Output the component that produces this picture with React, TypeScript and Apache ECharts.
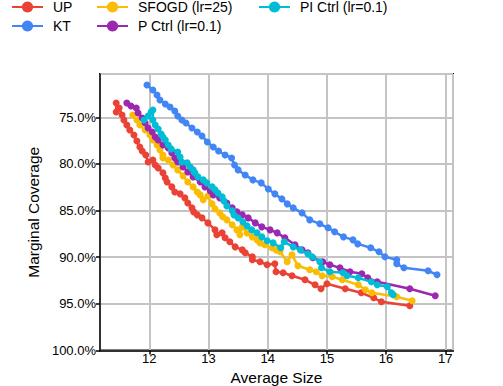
import React, { useEffect, useRef } from "react";
import * as echarts from "echarts";

const seriesNames = ["UP", "KT", "SFOGD (lr=25)", "P Ctrl (lr=0.1)", "PI Ctrl (lr=0.1)"];
const seriesColors = ["#EA4335", "#4285F4", "#FBBC04", "#9C27B0", "#00BCD4"];

const xRange = [11.167, 17.13];
const yRange = [70.36, 100];

const upSize = [11.44, 11.44, 11.49, 11.54, 11.57, 11.62, 11.67, 11.74, 11.79, 11.84, 11.88, 11.94, 11.98, 12.06, 12.10, 12.15, 12.23, 12.27, 12.30, 12.38, 12.43, 12.52, 12.60, 12.65, 12.72, 12.75, 12.81, 12.89, 12.99, 13.11, 13.14, 13.23, 13.28, 13.36, 13.45, 13.57, 13.62, 13.74, 13.74, 13.87, 13.99, 14.12, 14.14, 14.26, 14.41, 14.63, 14.80, 14.90, 15.00, 15.31, 15.58, 15.79, 15.92, 16.40];
const upCov = [73.47, 74.43, 74.00, 74.75, 75.29, 75.82, 76.36, 76.90, 77.54, 78.18, 78.61, 79.04, 79.79, 79.57, 80.11, 80.43, 80.96, 81.50, 81.93, 82.46, 83.00, 83.21, 83.64, 84.18, 84.71, 85.14, 85.46, 85.78, 86.32, 87.07, 87.60, 87.39, 87.92, 88.35, 88.89, 89.21, 89.53, 89.96, 90.28, 90.49, 90.81, 90.71, 91.56, 91.67, 91.99, 92.42, 92.96, 93.38, 92.85, 93.38, 93.81, 94.35, 94.78, 95.20];

const ktSize = [11.96, 12.06, 12.13, 12.18, 12.27, 12.35, 12.43, 12.48, 12.55, 12.62, 12.72, 12.81, 12.89, 12.98, 13.08, 13.17, 13.28, 13.39, 13.44, 13.50, 13.62, 13.75, 13.89, 14.01, 14.12, 14.24, 14.33, 14.43, 14.58, 14.71, 14.88, 15.02, 15.13, 15.28, 15.44, 15.52, 15.74, 15.88, 15.98, 16.18, 16.18, 16.30, 16.71, 16.86];
const ktCov = [71.54, 72.08, 72.61, 73.15, 73.58, 73.90, 74.33, 74.86, 75.29, 75.61, 76.15, 76.57, 77.00, 77.64, 78.18, 78.61, 79.04, 79.36, 80.11, 80.64, 81.18, 81.71, 82.03, 82.68, 83.21, 83.75, 84.28, 84.71, 85.25, 86.00, 86.42, 86.85, 87.28, 87.82, 88.14, 88.57, 88.99, 89.42, 89.96, 90.28, 90.71, 91.13, 91.46, 91.88];

const sfogdSize = [11.72, 11.79, 11.84, 11.93, 12.01, 12.06, 12.13, 12.18, 12.23, 12.23, 12.32, 12.40, 12.48, 12.57, 12.65, 12.74, 12.81, 12.86, 12.91, 12.99, 13.06, 13.11, 13.19, 13.24, 13.31, 13.40, 13.48, 13.53, 13.57, 13.65, 13.74, 13.82, 13.87, 13.95, 14.07, 14.14, 14.21, 14.33, 14.41, 14.51, 14.71, 14.82, 14.92, 15.09, 15.26, 15.53, 15.65, 15.76, 16.18, 16.44];
const sfogdCov = [74.75, 75.29, 75.82, 76.36, 76.90, 77.43, 77.97, 78.50, 79.04, 79.36, 79.57, 80.11, 80.64, 81.28, 81.93, 82.46, 83.00, 83.32, 83.85, 83.43, 84.28, 84.82, 85.25, 85.67, 86.00, 86.53, 87.07, 87.60, 86.75, 87.39, 87.82, 88.14, 88.46, 88.67, 88.99, 89.21, 89.42, 90.49, 89.74, 90.92, 91.35, 91.56, 91.99, 92.10, 92.42, 92.96, 93.49, 93.81, 94.24, 94.67];

const pSize = [11.62, 11.69, 11.78, 11.81, 11.88, 11.93, 11.98, 12.05, 12.10, 12.15, 12.23, 12.32, 12.38, 12.43, 12.48, 12.57, 12.65, 12.74, 12.86, 12.94, 13.03, 13.08, 13.19, 13.31, 13.40, 13.48, 13.57, 13.67, 13.79, 13.90, 14.04, 14.16, 14.29, 14.46, 14.58, 14.68, 14.76, 14.93, 15.05, 15.22, 15.39, 15.59, 15.69, 15.85, 16.40, 16.83];
const pCov = [73.47, 73.79, 74.00, 74.54, 75.07, 75.61, 76.15, 76.57, 77.11, 77.43, 77.97, 78.29, 78.82, 79.36, 79.79, 80.32, 80.86, 81.39, 81.93, 82.46, 82.89, 83.32, 83.64, 84.18, 84.71, 85.14, 85.46, 85.78, 86.32, 86.75, 87.07, 87.39, 87.92, 88.67, 89.21, 89.53, 90.06, 90.49, 90.81, 91.14, 91.56, 91.78, 92.21, 92.64, 93.38, 94.13];

const piSize = [11.91, 11.98, 12.03, 12.06, 12.06, 12.10, 12.15, 12.20, 12.23, 12.27, 12.32, 12.37, 12.48, 12.52, 12.55, 12.64, 12.69, 12.74, 12.77, 12.82, 12.91, 12.97, 13.06, 13.11, 13.16, 13.23, 13.26, 13.31, 13.40, 13.43, 13.50, 13.58, 13.65, 13.73, 13.82, 13.90, 13.99, 14.09, 14.22, 14.28, 14.43, 14.55, 14.68, 14.75, 14.88, 14.91, 15.05, 15.27, 15.34, 15.53, 15.75, 15.85, 16.02, 16.09, 16.12];
const piCov = [75.29, 74.86, 74.43, 74.22, 75.29, 75.82, 76.25, 76.79, 77.11, 77.43, 77.97, 78.39, 78.72, 79.25, 79.79, 79.89, 80.32, 80.64, 80.96, 81.39, 81.71, 82.03, 82.46, 82.78, 83.11, 83.53, 83.96, 84.50, 85.03, 85.46, 85.78, 86.21, 86.64, 87.07, 87.39, 87.82, 88.24, 88.46, 88.99, 88.35, 88.89, 89.21, 89.64, 89.96, 90.49, 91.13, 91.56, 91.67, 91.99, 92.21, 92.64, 92.96, 93.17, 93.81, 94.03];

const sizes = [upSize, ktSize, sfogdSize, pSize, piSize];
const covs = [upCov, ktCov, sfogdCov, pCov, piCov];

const FONT = "Liberation Sans, Arial, Helvetica, sans-serif";

export default function App() {
  const ref = useRef<HTMLDivElement>(null);
  useEffect(() => {
    if (!ref.current) return;
    const chart = echarts.init(ref.current, null, { renderer: "svg" });
    const dataSeries: any[] = seriesNames.map((name, i) => ({
      name,
      type: "line",
      data: sizes[i].map((x, j) => [x, covs[i][j]]),
      symbol: "circle",
      symbolSize: 7,
      showSymbol: true,
      lineStyle: { width: 2.5, color: seriesColors[i] },
      itemStyle: { color: seriesColors[i] },
      color: seriesColors[i],
      z: 3 + i,
    }));
    const legendCommon = {
      orient: "vertical",
      top: 0,
      padding: 0,
      itemWidth: 31,
      itemHeight: 14,
      itemGap: 5,
      textStyle: { fontFamily: FONT, fontSize: 14, color: "#000", padding: [0, 0, 0, 5] },
    };
    chart.setOption({
      animation: false,
      backgroundColor: "#fff",
      legend: [
        { ...legendCommon, left: 11, data: ["UP", "KT"] },
        { ...legendCommon, left: 96, data: ["SFOGD (lr=25)", "P Ctrl (lr=0.1)"] },
        { ...legendCommon, left: 258, data: ["PI Ctrl (lr=0.1)"] },
      ],
      grid: {
        left: 100,
        right: 50,
        top: 74,
        bottom: 35.5,
        outerBoundsMode: "none",
        containLabel: false,
        show: true,
        borderColor: "#000000",
        borderWidth: 2,
        backgroundColor: "rgba(255,255,255,0)",
      },
      xAxis: {
        type: "value",
        position: "bottom",
        min: xRange[0],
        max: xRange[1],
        splitNumber: 6,
        name: "Average Size",
        nameLocation: "middle",
        nameGap: 17,
        nameTextStyle: { fontFamily: FONT, fontSize: 15.5, color: "#000" },
        axisLine: { show: true, onZero: false, lineStyle: { color: "#000", width: 1.5 } },
        axisTick: { show: true, inside: false, length: 4, lineStyle: { color: "#000", width: 1.5 } },
        axisLabel: {
          showMinLabel: false,
          showMaxLabel: false,
          margin: 1.5,
          fontFamily: FONT,
          fontSize: 13,
          color: "#000",
          formatter: (v: number) => String(Math.round(v)),
        },
        splitLine: { show: true, lineStyle: { color: "#c4c4c4", width: 2, opacity: 1 } },
      },
      yAxis: {
        type: "value",
        position: "left",
        inverse: true,
        min: yRange[0],
        max: yRange[1],
        splitNumber: 6,
        name: "Marginal Coverage",
        nameLocation: "middle",
        nameGap: 55,
        nameTextStyle: { fontFamily: FONT, fontSize: 15.5, color: "#000" },
        axisLine: { show: true, onZero: false, lineStyle: { color: "#000", width: 1.5 } },
        axisTick: { show: true, inside: false, length: 4, lineStyle: { color: "#000", width: 1.5 } },
        axisLabel: {
          showMinLabel: false,
          margin: 4,
          fontFamily: FONT,
          fontSize: 13,
          color: "#000",
          formatter: (v: number) => v.toFixed(1) + "%",
        },
        splitLine: { show: true, lineStyle: { color: "#c4c4c4", width: 2, opacity: 1 } },
      },
      series: dataSeries,
    });
    return () => chart.dispose();
  }, []);
  return <div ref={ref} style={{ width: 503, height: 386, position: "absolute", left: 0, top: 0 }} />;
}
